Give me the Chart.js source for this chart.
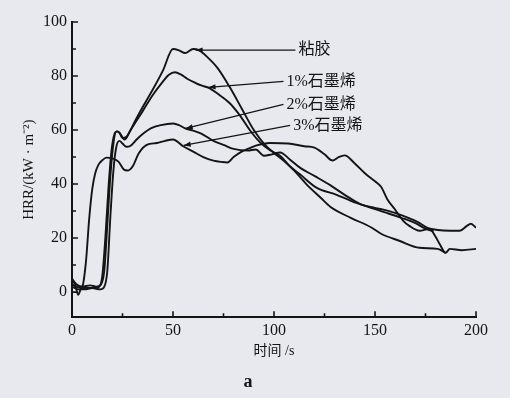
<!DOCTYPE html>
<html>
<head>
<meta charset="utf-8">
<script src="https://cdn.jsdelivr.net/npm/chart.js@4.4.1/dist/chart.umd.min.js"></script>
<style>
html, body { margin: 0; padding: 0; background: #e8e9ef; }
#wrap { width: 510px; height: 398px; }
</style>
</head>
<body>
<div id="wrap"><canvas id="c" width="510" height="398"></canvas></div>
<script>
// HRR curves, time (s) and heat release rate (kW/m2)
const seriesNames = ['粘胶', '1%石墨烯', '2%石墨烯', '3%石墨烯'];

const neatT = [0, 2, 5, 8, 11, 13.5, 15, 16.5, 18, 19.5, 21, 22.5, 24, 26, 28, 31, 35, 40, 45, 50, 53, 56, 60, 63, 67, 72, 78, 84, 90, 95, 100, 105, 110, 116, 123, 128, 138, 148, 153, 162, 172, 181, 185];
const neatV = [3, 2, 1.5, 1.5, 1.5, 2, 6, 20, 38, 52, 58.5, 59.5, 58.5, 56.5, 58.5, 63, 68.5, 75, 82, 90, 89.5, 88.5, 90, 89.5, 87, 83, 76, 68, 60, 55, 51.5, 48.5, 45, 40, 35, 31.5, 27.5, 24, 21.6, 19, 16.4, 16, 14.5];

const g1T = [0, 2, 5, 9, 12, 14.5, 16, 17.5, 19, 20.5, 22, 23.5, 25, 27, 29, 32, 35, 40, 44, 48, 51, 54, 57, 61, 64, 68, 72, 78, 83, 88, 93, 98, 103, 108, 113, 121, 131, 138, 148, 155, 163, 170, 175, 179];
const g1V = [5, 3, 2, 2.5, 2, 3, 8, 25, 43, 55, 59.5, 59, 57, 57.5, 60, 63.5, 67, 73, 77, 80.5, 81.4, 80.5, 79, 77.5, 76.5, 75.5, 73.5, 70, 65.5, 60, 55.5, 52.5, 50.5, 46.5, 43.5, 38.7, 36, 33.8, 31.2, 29.5, 27.5, 25.5, 23.5, 22.5];

const g2T = [0, 3, 7, 10, 14, 16, 17.5, 19, 20.5, 22, 23.5, 25, 27, 29, 32, 35, 39, 44, 50, 53, 56, 60, 64, 70, 75, 80, 87, 91, 95, 99, 103, 108, 113, 120, 128, 135, 143, 150, 157, 163, 171, 176, 181, 187, 192, 195.5, 197.5, 200];
const g2V = [2, 1, 1, 1.5, 1, 2, 8, 28, 45, 54, 56, 55, 53.8, 54.2, 56.5, 58.5, 60.6, 61.8, 62.4, 61.8, 60.6, 59.8, 58.7, 56, 54.5, 53, 52.4, 52.8, 50.5, 51, 51.7, 49, 46, 43, 39.5, 36, 32.5, 31.2, 30, 28.5, 26, 23.8, 23, 22.7, 22.7, 24.5, 25.3, 23.8];

const g3T = [0, 1.5, 3, 4.5, 5.5, 7, 8.5, 10, 11.5, 13, 15, 17, 20, 23, 25.5, 27.5, 30, 33, 37, 42, 46, 50, 55, 60, 65, 70, 74, 77, 80, 84, 87, 91, 98, 107, 115, 120, 125, 129, 132, 135, 140, 145, 150, 153, 156, 160, 164, 167, 172, 177, 180, 182, 185, 187, 193, 200];
const g3V = [4, 3, -1, 1.5, 3, 12, 27, 38, 44, 47, 48.8, 49.8, 49.5, 48.3, 45.5, 45, 46.5, 51.3, 54.5, 55.2, 56, 56.5, 54, 52, 50, 48.7, 48.2, 48, 50, 52, 53, 54.2, 55.2, 55, 54, 53.5, 51, 48.7, 50, 50.6, 47.6, 44, 41, 39, 34.5, 30.5, 26.4, 24.5, 22.7, 23.4, 20.5, 17.8, 14.5, 16, 15.5, 16];

const xTicks = [0, 50, 100, 150, 200];
const xMinorTicks = [25, 75, 125, 175];
const yTicks = [0, 20, 40, 60, 80, 100];
const yMinorTicks = [10, 30, 50, 70, 90];

// label callouts: start of the leader line (next to the text) and arrow tip, in data units
const arrowFromT = [110.6, 104.7, 104.7, 108];
const arrowFromV = [89.6, 78, 69.5, 61.7];
const arrowToT = [61.2, 67.6, 56.3, 55.3];
const arrowToV = [89.6, 75.8, 60.6, 54.3];

const ink = '#141414';
const serif = "'Liberation Serif', 'Noto Sans CJK SC', serif";

const toPts = (ts, vs) => ts.map((t, i) => ({ x: t, y: vs[i] }));

const curve = (label, ts, vs) => ({
    label: label,
    data: toPts(ts, vs),
    borderColor: ink,
    borderWidth: 1.9,
    pointRadius: 0,
    fill: false,
    cubicInterpolationMode: 'monotone'
});

// ticks of this figure point into the plot
const inwardTicks = {
    id: 'inwardTicks',
    afterDraw(chart) {
        const { ctx, chartArea, scales: { x, y } } = chart;
        ctx.save();
        ctx.strokeStyle = ink;
        ctx.lineWidth = 1.6;
        ctx.beginPath();
        const mark = (list, len, horiz) => list.forEach(v => {
            if (horiz) {
                const px = x.getPixelForValue(v);
                ctx.moveTo(px, chartArea.bottom);
                ctx.lineTo(px, chartArea.bottom - len);
            } else {
                const py = y.getPixelForValue(v);
                ctx.moveTo(chartArea.left, py);
                ctx.lineTo(chartArea.left + len, py);
            }
        });
        mark(xTicks, 6, true);
        mark(xMinorTicks, 4, true);
        mark(yTicks, 6, false);
        mark(yMinorTicks, 4, false);
        ctx.stroke();
        ctx.restore();
    }
};

const callouts = {
    id: 'callouts',
    afterDatasetsDraw(chart) {
        const { ctx, scales: { x, y } } = chart;
        ctx.save();
        ctx.strokeStyle = ink;
        ctx.fillStyle = ink;
        ctx.lineWidth = 1.3;
        ctx.font = '16px ' + serif;
        ctx.textBaseline = 'middle';
        seriesNames.forEach((name, i) => {
            const fx = x.getPixelForValue(arrowFromT[i]);
            const fy = y.getPixelForValue(arrowFromV[i]);
            const tx = x.getPixelForValue(arrowToT[i]);
            const ty = y.getPixelForValue(arrowToV[i]);
            ctx.beginPath();
            ctx.moveTo(fx, fy);
            ctx.lineTo(tx, ty);
            ctx.stroke();
            const a = Math.atan2(ty - fy, tx - fx);
            ctx.beginPath();
            ctx.moveTo(tx, ty);
            ctx.lineTo(tx - 7 * Math.cos(a) + 2.6 * Math.sin(a), ty - 7 * Math.sin(a) - 2.6 * Math.cos(a));
            ctx.lineTo(tx - 7 * Math.cos(a) - 2.6 * Math.sin(a), ty - 7 * Math.sin(a) + 2.6 * Math.cos(a));
            ctx.closePath();
            ctx.fill();
            ctx.fillText(name, fx + 3, fy);
        });
        ctx.restore();
    }
};

new Chart(document.getElementById('c').getContext('2d'), {
    type: 'line',
    data: {
        datasets: [
            curve(seriesNames[0], neatT, neatV),
            curve(seriesNames[1], g1T, g1V),
            curve(seriesNames[2], g2T, g2V),
            curve(seriesNames[3], g3T, g3V)
        ]
    },
    options: {
        responsive: false,
        animation: false,
        layout: { padding: { left: 20, top: 22, right: 34, bottom: 3 } },
        plugins: {
            legend: { display: false },
            tooltip: { enabled: false },
            title: {
                display: true,
                position: 'bottom',
                text: 'a',
                color: ink,
                font: { family: serif, size: 18, weight: 'bold' },
                padding: { top: 6, bottom: 2 }
            }
        },
        scales: {
            x: {
                type: 'linear',
                min: 0,
                max: 200,
                afterBuildTicks: s => { s.ticks = xTicks.map(v => ({ value: v })); },
                grid: { display: false, drawTicks: false },
                border: { display: true, color: ink, width: 2 },
                ticks: { color: ink, font: { family: serif, size: 16 }, padding: 4, maxRotation: 0 },
                title: {
                    display: true,
                    text: '时间 /s',
                    color: ink,
                    font: { family: serif, size: 14, lineHeight: 1 },
                    padding: { top: 0, bottom: 7 }
                }
            },
            y: {
                min: -9.3,
                max: 100,
                afterBuildTicks: s => { s.ticks = yTicks.map(v => ({ value: v })); },
                grid: { display: false, drawTicks: false },
                border: { display: true, color: ink, width: 2 },
                ticks: { color: ink, font: { family: serif, size: 16 }, padding: 5 },
                title: {
                    display: true,
                    text: 'HRR/(kW · m⁻²)',
                    color: ink,
                    font: { family: serif, size: 15 },
                    padding: { top: 0, bottom: 0 }
                }
            }
        }
    },
    plugins: [inwardTicks, callouts]
});
</script>
</body>
</html>
